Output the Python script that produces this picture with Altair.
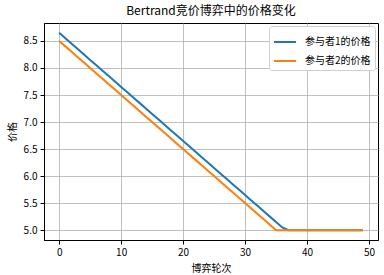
import altair as alt
import pandas as pd

rounds = list(range(50))
p1 = [8.65, 8.55, 8.45, 8.35, 8.25, 8.15, 8.05, 7.95, 7.85, 7.75,
      7.65, 7.55, 7.45, 7.35, 7.25, 7.15, 7.05, 6.95, 6.85, 6.75,
      6.65, 6.55, 6.45, 6.35, 6.25, 6.15, 6.05, 5.95, 5.85, 5.75,
      5.65, 5.55, 5.45, 5.35, 5.25, 5.15, 5.05, 5.0, 5.0, 5.0,
      5.0, 5.0, 5.0, 5.0, 5.0, 5.0, 5.0, 5.0, 5.0, 5.0]
p2 = [8.5, 8.4, 8.3, 8.2, 8.1, 8.0, 7.9, 7.8, 7.7, 7.6,
      7.5, 7.4, 7.3, 7.2, 7.1, 7.0, 6.9, 6.8, 6.7, 6.6,
      6.5, 6.4, 6.3, 6.2, 6.1, 6.0, 5.9, 5.8, 5.7, 5.6,
      5.5, 5.4, 5.3, 5.2, 5.1, 5.0, 5.0, 5.0, 5.0, 5.0,
      5.0, 5.0, 5.0, 5.0, 5.0, 5.0, 5.0, 5.0, 5.0, 5.0]
series_names = ["参与者1的价格", "参与者2的价格"]
x_ticks = [0, 10, 20, 30, 40, 50]
y_ticks = [5.0, 5.5, 6.0, 6.5, 7.0, 7.5, 8.0, 8.5]

df = pd.DataFrame({
    "round": rounds * 2,
    "price": p1 + p2,
    "series": [series_names[0]] * len(rounds) + [series_names[1]] * len(rounds),
})

FONT = "Noto Sans CJK SC"

chart = alt.Chart(df).mark_line(strokeWidth=2).encode(
    x=alt.X("round:Q", title="博弈轮次",
            scale=alt.Scale(domain=[-2.45, 51.45], nice=False, zero=False),
            axis=alt.Axis(values=x_ticks, format="d")),
    y=alt.Y("price:Q", title="价格",
            scale=alt.Scale(domain=[4.8175, 8.8325], nice=False, zero=False),
            axis=alt.Axis(values=y_ticks, format=".1f")),
    color=alt.Color("series:N",
                    scale=alt.Scale(domain=series_names, range=["#1f77b4", "#ff7f0e"]),
                    legend=alt.Legend(title=None, orient="top-right", offset=3,
                                      padding=4, fillColor="white",
                                      strokeColor="#d0d0d0", cornerRadius=3,
                                      symbolType="stroke", symbolStrokeWidth=2,
                                      symbolSize=480, labelFontSize=10,
                                      labelFont=FONT, rowPadding=2,
                                      labelOffset=8)),
).properties(
    width=334, height=217,
    title=alt.TitleParams("Bertrand竞价博弈中的价格变化", font=FONT,
                          fontSize=12, fontWeight="normal", anchor="middle",
                          offset=5, color="black"),
    autosize=alt.AutoSizeParams(type="none"),
    padding={"left": 44, "top": 23, "right": 6, "bottom": 35},
).configure_view(
    stroke="black", strokeWidth=1
).configure_axis(
    labelFont=FONT, titleFont=FONT, labelFontSize=10, titleFontSize=10,
    titleFontWeight="normal", labelColor="black", titleColor="black",
    gridColor="#b0b0b0", gridWidth=0.8, domainColor="black",
    tickColor="black", tickSize=4, labelPadding=3,
).configure_axisX(titlePadding=6).configure_axisY(titlePadding=6)

chart.save("out.html", embed_options={"renderer": "svg", "actions": False})
